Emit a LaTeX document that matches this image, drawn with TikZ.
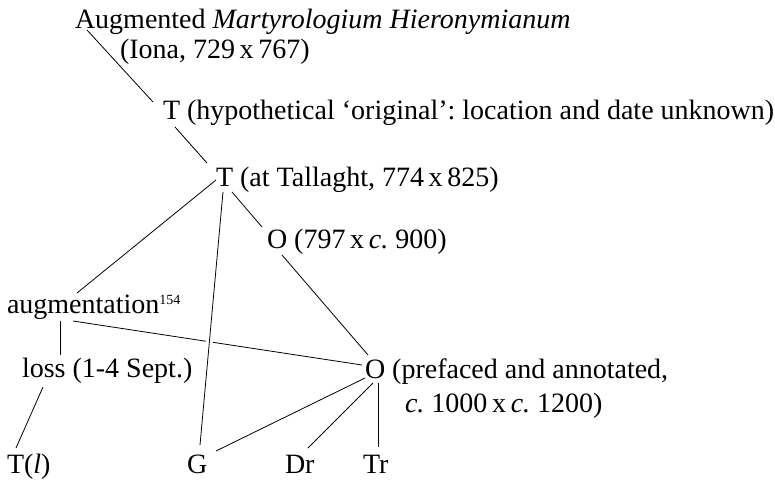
\documentclass[tikz,border=0pt]{standalone}
\usepackage{fontspec}
\setmainfont{Liberation Serif}
\usetikzlibrary{calc}
\frenchspacing
\begin{document}
\begin{tikzpicture}[x=1pt,y=-1pt,
  txt/.style={anchor=base west,inner sep=0pt,outer sep=0pt,font=\fontsize{28}{30}\selectfont\frenchspacing},
  link/.style={draw=black,line width=0.8pt}]
\useasboundingbox (0,0) rectangle (775,480);
% nodes
\node[txt] (aug) at (75,28) {Augmented \textit{Martyrologium Hieronymianum}};
\node[txt] (augb) at (120,58) {(Iona, 729\,x\,767)};
\node[txt] (t1) at (163,119) {T (hypothetical ‘original’: location and date unknown)};
\node[txt] (t2) at (216,186) {T (at Tallaght, 774\,x\,825)};
\node[txt] (o1) at (267,248) {O (797\,x\,\textit{c.} 900)};
\node[txt] (am) at (7,313) {augmentation\raisebox{9pt}{\fontsize{14}{14}\selectfont 154}};
\node[txt] (loss) at (22,377) {loss (1-4 Sept.)};
\node[txt] (o2) at (365,378) {O (prefaced and annotated,};
\node[txt] (o2b) at (405,412) {\textit{c.} 1000\,x\,\textit{c.} 1200)};
\node[txt] (tl) at (7,473) {T(\textit{l})};
\node[txt] (g) at (187,473) {G};
\node[txt] (dr) at (285,473) {Dr};
\node[txt] (tr) at (363,473) {Tr};
% connectors
\draw[link] ([shift={(12,2)}]aug.base west) -- ([shift={(-10,-17)}]t1.base west);
\draw[link] ([shift={(12,8)}]t1.base west) -- ([shift={(-9,-23)}]t2.base west);
\draw[link] ([shift={(0,-6)}]t2.base west) -- ([shift={(70,-20)}]am.base west);
\draw[link] ([shift={(16,6)}]t2.base west) -- ([shift={(-5,-21)}]o1.base west);
\draw[link] ([shift={(15,7)}]o1.base west) -- ([shift={(3,-23)}]o2.base west);
\draw[link] ([shift={(66,8)}]am.base west) -- ([shift={(-3,-13)}]o2.base west);
\draw[white,line width=7pt] ($([shift={(7,6)}]t2.base west)!0.55!([shift={(13,-28)}]g.base west)$) -- ($([shift={(7,6)}]t2.base west)!0.6!([shift={(13,-28)}]g.base west)$);
\draw[link] ([shift={(7,6)}]t2.base west) -- ([shift={(13,-28)}]g.base west);
\draw[link] ([shift={(53,8)}]am.base west) -- ([shift={(38,-22)}]loss.base west);
\draw[link] ([shift={(21,10)}]loss.base west) -- ([shift={(9,-25)}]tl.base west);
\draw[link] ([shift={(0,0)}]o2.base west) -- ([shift={(29,-22)}]g.base west);
\draw[link] ([shift={(8,5)}]o2.base west) -- ([shift={(23,-25)}]dr.base west);
\draw[link] ([shift={(13,5)}]o2.base west) -- ([shift={(15,-26)}]tr.base west);
\end{tikzpicture}
\end{document}
